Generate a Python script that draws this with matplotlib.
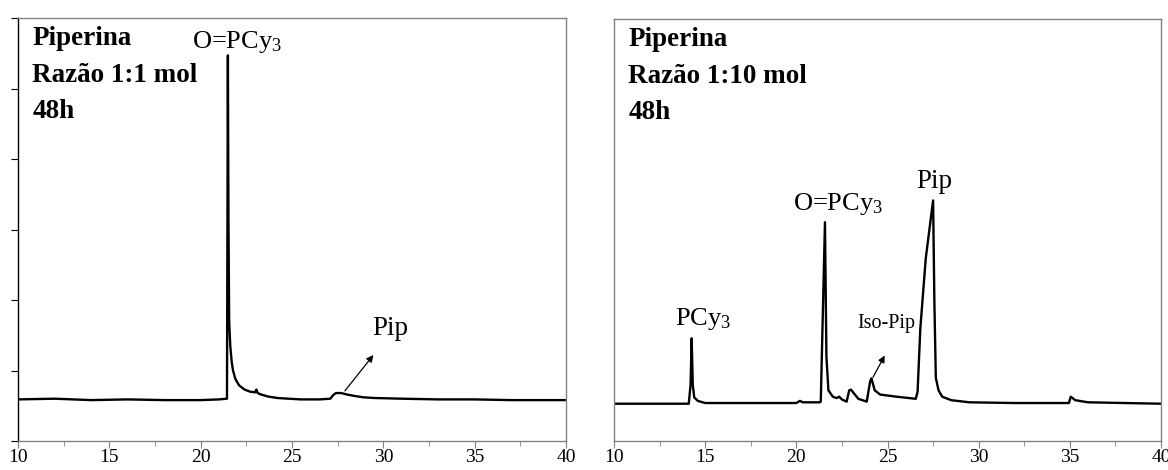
import matplotlib
matplotlib.use("Agg")
import matplotlib.pyplot as plt
from matplotlib.ticker import MultipleLocator

plt.rcParams['font.family'] = ['Liberation Serif', 'DejaVu Serif']
plt.rcParams['mathtext.fontset'] = 'custom'
plt.rcParams['mathtext.rm'] = 'Liberation Serif'
plt.rcParams['mathtext.it'] = 'Liberation Serif:italic'

# Left chromatogram (1:1 mol)
t_left = [10, 12, 14, 16, 18, 20, 21.0, 21.44, 21.46, 21.49, 21.52, 21.56, 21.62, 21.7, 21.77,
          21.9, 22.1, 22.4, 22.7, 22.98, 23.05, 23.12, 23.3, 23.7, 24.2, 24.8, 25.5, 26.5,
          27.1, 27.25, 27.4, 27.7, 28.0, 28.4, 28.9, 29.5, 31, 33, 35, 37, 40]
y_left = [0.59, 0.60, 0.58, 0.59, 0.58, 0.58, 0.59, 0.60, 2.5, 5.47, 3.2, 1.7, 1.35, 1.12, 1.0,
          0.88, 0.79, 0.73, 0.70, 0.69, 0.73, 0.68, 0.66, 0.63, 0.61, 0.60, 0.59, 0.59,
          0.60, 0.65, 0.68, 0.68, 0.66, 0.64, 0.62, 0.61, 0.60, 0.59, 0.59, 0.58, 0.58]

# Right chromatogram (1:10 mol)
t_right = [10, 12, 14.1, 14.2, 14.26, 14.32, 14.4, 14.6, 15, 17, 20.0, 20.2, 20.35, 20.6, 21.3,
           21.34, 21.57, 21.65, 21.76, 22.0, 22.2, 22.35, 22.5, 22.76, 22.9, 23.0, 23.15, 23.4,
           23.86, 24.05, 24.12, 24.3, 24.6, 25.5, 26.55, 26.65, 26.8, 27.1, 27.5, 27.57, 27.65,
           27.8, 28.0, 28.5, 29.5, 32, 34.95, 35.05, 35.3, 36, 38, 40]
y_right = [0.53, 0.53, 0.53, 0.8, 1.46, 0.8, 0.62, 0.57, 0.54, 0.54, 0.54, 0.57, 0.55, 0.55, 0.55,
           0.56, 3.11, 1.2, 0.72, 0.63, 0.61, 0.63, 0.59, 0.56, 0.72, 0.73, 0.68, 0.60,
           0.56, 0.85, 0.89, 0.72, 0.66, 0.63, 0.60, 0.70, 1.6, 2.6, 3.42, 2.0, 0.9,
           0.72, 0.63, 0.58, 0.55, 0.54, 0.54, 0.63, 0.58, 0.55, 0.54, 0.53]

x_ticks = [10, 15, 20, 25, 30, 35, 40]
left_title = ["Piperina", "Razão 1:1 mol", "48h"]
right_title = ["Piperina", "Razão 1:10 mol", "48h"]

W, H = 1168, 470
fig = plt.figure(figsize=(W / 100, H / 100), dpi=100)
ax1 = fig.add_axes([18 / W, 1 - 441 / H, 548 / W, 423 / H])
ax2 = fig.add_axes([614 / W, 1 - 441 / H, 547 / W, 422 / H])

grey = '#808080'
for ax, t, y, title in [(ax1, t_left, y_left, left_title), (ax2, t_right, y_right, right_title)]:
    ax.plot(t, y, color='black', lw=1.7, solid_joinstyle='round')
    ax.set_xlim(10, 40)
    ax.set_ylim(0, 6)
    ax.set_xticks(x_ticks)
    ax.xaxis.set_minor_locator(MultipleLocator(2.5))
    ax.tick_params(axis='x', which='major', direction='out', length=5, color=grey,
                   labelsize=14, pad=1)
    ax.tick_params(axis='x', which='minor', direction='out', length=3.5, color=grey)
    for s in ax.spines.values():
        s.set_color(grey)
        s.set_linewidth(1.0)
    for i, line in enumerate(title):
        ax.text(0.026, 0.935 - i * 0.086, line, transform=ax.transAxes, fontsize=19.5,
                fontweight='bold', va='baseline', ha='left')

ax1.spines['left'].set_color('black')
ax1.set_yticks([0, 1, 2, 3, 4, 5, 6])
ax1.set_yticklabels([])
ax1.tick_params(axis='y', direction='out', length=5, color='black')
ax2.set_yticks([])

# Annotations left
ax1.text(22.0, 5.57, 'O=PCy$_3$', fontsize=19, ha='center', va='baseline')
ax1.text(30.4, 1.50, 'Pip', fontsize=19.5, ha='center', va='baseline')
ax1.annotate('', xy=(29.55, 1.25), xytext=(27.8, 0.68),
             arrowprops=dict(arrowstyle='-|>', color='black', lw=0.9, mutation_scale=10))

# Annotations right
ax2.text(14.9, 1.65, 'PCy$_3$', fontsize=19, ha='center', va='baseline')
ax2.text(22.3, 3.28, 'O=PCy$_3$', fontsize=19, ha='center', va='baseline')
ax2.text(27.58, 3.6, 'Pip', fontsize=19.5, ha='center', va='baseline')
ax2.text(24.92, 1.60, 'Iso-Pip', fontsize=14.5, ha='center', va='baseline')
ax2.annotate('', xy=(24.92, 1.25), xytext=(24.13, 0.87),
             arrowprops=dict(arrowstyle='-|>', color='black', lw=0.9, mutation_scale=10))

fig.savefig('out.png', dpi=100)
